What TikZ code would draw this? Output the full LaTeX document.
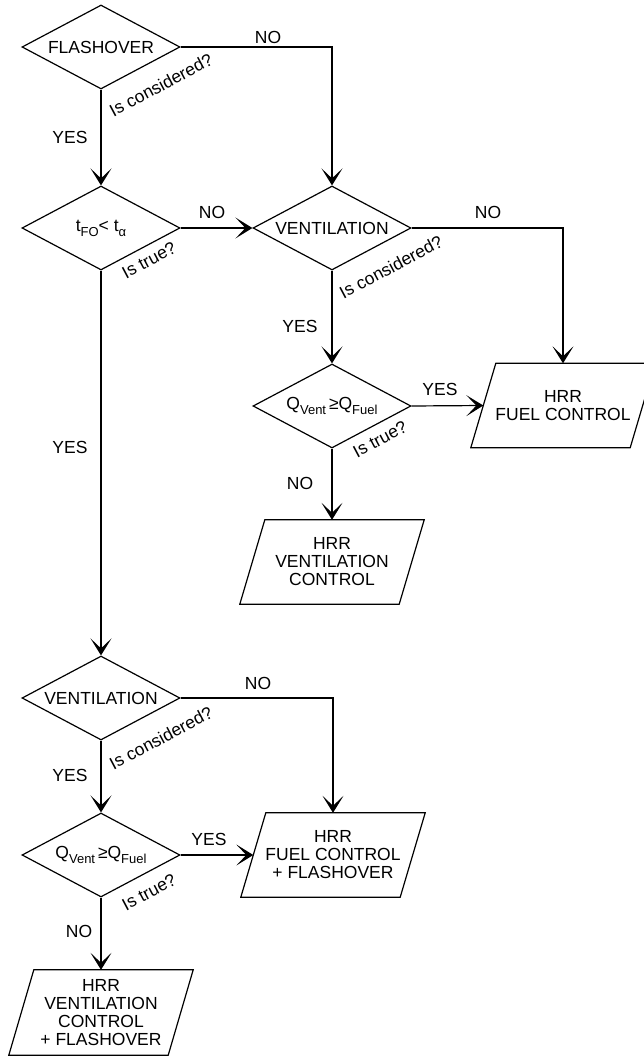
\documentclass[tikz,border=0pt]{standalone}
\usepackage{fontspec}
\setmainfont{Liberation Sans}
\usetikzlibrary{shapes.geometric,arrows.meta}
\newcommand{\mysub}[1]{\raisebox{-5pt}{\fontsize{13}{13}\selectfont #1}}
\tikzset{
  base/.style={font=\fontsize{17.5}{18}\selectfont},
  dec/.style={base, shape=diamond, draw, line width=1.2pt, inner sep=0pt, aspect=1.88,
    minimum width=158pt, minimum height=84pt},
  para/.style={base, shape=rectangle, draw=none, inner sep=0pt, align=center,
    minimum width=159pt, minimum height=84pt,
    append after command={
      \pgfextra{\draw[line width=1.2pt]
        ([xshift=12.5pt]\tikzlastnode.north west) -- ([xshift=12.5pt]\tikzlastnode.north east) --
        ([xshift=-12.5pt]\tikzlastnode.south east) -- ([xshift=-12.5pt]\tikzlastnode.south west) -- cycle;}}},
  lbl/.style={base, inner sep=0pt},
  conn/.style={line width=1.2pt, -{Stealth[length=17pt,width=21pt,inset=10pt]}},
}
\begin{document}
\begin{tikzpicture}[x=1pt,y=-1pt]
\useasboundingbox (0,0) rectangle (644,1056);
\clip (0,0) rectangle (644,1056);
% decisions
\node[dec] (d1) at (101,47) {FLASHOVER};
\node[dec] (d2) at (101,228) {t\mysub{FO}< t\mysub{α}};
\node[dec] (v1) at (332,228) {VENTILATION};
\node[dec] (q1) at (332,406) {Q\mysub{Vent}\,≥Q\mysub{Fuel}};
\node[dec] (v2) at (101,698) {VENTILATION};
\node[dec] (q2) at (101,855) {Q\mysub{Vent}\,≥Q\mysub{Fuel}};
% outputs
\node[para] (p1) at (563,405.5) {HRR\\FUEL CONTROL};
\node[para] (p2) at (332,562) {HRR\\VENTILATION\\CONTROL};
\node[para] (p3) at (333,855) {HRR\\FUEL CONTROL\\+ FLASHOVER};
\node[para, minimum height=85pt] (p4) at (101,1012.5) {HRR\\VENTILATION\\CONTROL\\+ FLASHOVER};
% connectors
\draw[conn] (d1.east) -| (v1.north);
\draw[conn] (d1.south) -- (d2.north);
\draw[conn] (d2.east) -- (v1.west);
\draw[conn] (v1.east) -| (p1.north);
\draw[conn] (v1.south) -- (q1.north);
\draw[conn] (q1.east) -- (p1.west);
\draw[conn] (q1.south) -- (p2.north);
\draw[conn] (d2.south) -- (v2.north);
\draw[conn] (v2.east) -| (p3.north);
\draw[conn] (v2.south) -- (q2.north);
\draw[conn] (q2.east) -- (p3.west);
\draw[conn] (q2.south) -- (p4.north);
% labels
\node[lbl] (l1) at (268,37) {NO};
\node[lbl] (l2) at (70,137) {YES};
\node[lbl, rotate=28] (l3) at (161,85) {Is considered?};
\node[lbl] (l4) at (212,212) {NO};
\node[lbl, rotate=28] (l5) at (149,260) {Is true?};
\node[lbl] (l6) at (488,212) {NO};
\node[lbl, rotate=28] (l7) at (391,267) {Is considered?};
\node[lbl] (l8) at (300,326) {YES};
\node[lbl] (l9) at (440,389) {YES};
\node[lbl, rotate=28] (l10) at (380,439) {Is true?};
\node[lbl] (l11) at (300,483) {NO};
\node[lbl] (l12) at (70,447) {YES};
\node[lbl] (l13) at (258,683) {NO};
\node[lbl, rotate=28] (l14) at (161,738) {Is considered?};
\node[lbl] (l15) at (70,775) {YES};
\node[lbl] (l16) at (209,839) {YES};
\node[lbl, rotate=28] (l17) at (149,892) {Is true?};
\node[lbl] (l18) at (79,931) {NO};
\end{tikzpicture}
\end{document}
